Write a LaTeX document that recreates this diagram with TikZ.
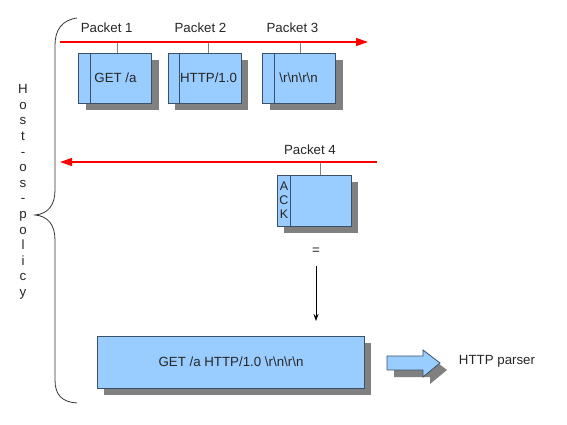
\documentclass[tikz,border=0pt]{standalone}
\usepackage{fontspec}
\setmainfont{Liberation Sans}
\usetikzlibrary{shadows,arrows.meta}
\definecolor{boxfill}{HTML}{99CCFF}
\definecolor{boxedge}{HTML}{3C5068}
\definecolor{shadowgray}{HTML}{808080}
\tikzset{
  pkt/.style={draw=boxedge, fill=boxfill, line width=0.8pt, rectangle, inner sep=0pt,
    minimum width=73pt, minimum height=50pt,
    drop shadow={shadow xshift=7pt, shadow yshift=-7pt, fill=shadowgray, opacity=1}},
  lbl/.style={font=\fontsize{13.3}{15.6}\selectfont, text=black!85, inner sep=0pt},
  redline/.style={draw=red, line width=1.2pt},
  tick/.style={draw=shadowgray, line width=1pt},
}
\begin{document}
\begin{tikzpicture}[x=1pt,y=-1pt]
\useasboundingbox (0,0) rectangle (567,425);
% brace
\draw[black!80, line width=0.8pt] (77,18) .. controls (62,20) and (55,30) .. (55,45) -- (55,190)
  .. controls (55,205) and (48,214) .. (35,215)
  .. controls (48,216) and (55,225) .. (55,240) -- (55,380)
  .. controls (55,395) and (62,402) .. (77,403);
\node[lbl, align=center] (hop) at (23,192) {H\\o\\s\\t\\-\\o\\s\\-\\p\\o\\l\\i\\c\\y};
% row 1
\coordinate (r1s) at (60,42);
\coordinate (r1e) at (368,42);
\node[pkt] (p1) at (115,78) {};
\node[pkt] (p2) at (204.5,78) {};
\node[pkt] (p3) at (299,78) {};
\foreach \p in {p1,p2,p3}{
  \draw[boxedge, line width=0.8pt] ([xshift=12pt]\p.north west) -- ([xshift=12pt]\p.south west);
}
\node[lbl] at (115.5,78) {GET /a};
\node[lbl] at (208.5,78) {HTTP/1.0};
\node[lbl] at (298.6,78) {\textbackslash r\textbackslash n\textbackslash r\textbackslash n};
\node[lbl] (l1) at (106.7,28) {Packet 1};
\node[lbl] (l2) at (200.5,28) {Packet 2};
\node[lbl] (l3) at (292.5,28) {Packet 3};
\draw[tick] (p1.north -| 117,0) -- (r1s -| 117,0);
\draw[tick] (p2.north -| 208,0) -- (r1s -| 208,0);
\draw[tick] (p3.north -| 300,0) -- (r1s -| 300,0);
\draw[redline, -{Triangle[length=12pt,width=8pt]}] (r1s) -- (r1e);
% row 2
\coordinate (r2s) at (377,162);
\coordinate (r2e) at (60,162);
\node[pkt, minimum width=74pt, minimum height=51pt] (p4) at (314,200.5) {};
\draw[boxedge, line width=0.8pt] ([xshift=14pt]p4.north west) -- ([xshift=14pt]p4.south west);
\node[lbl, align=center, font=\fontsize{12.5}{14}\selectfont] (ack) at (284,200) {A\\C\\K};
\node[lbl] (l4) at (310,150) {Packet 4};
\draw[tick] (p4.north -| 320,0) -- (r2s -| 320,0);
\draw[redline, -{Triangle[length=12pt,width=8pt]}] (r2s) -- (r2e);
% equals and arrow
\node[lbl] (eq) at (316,251) {=};
\coordinate (aend) at (316,321);
\draw[black, line width=0.8pt, -{Stealth[length=7pt,width=5pt]}] (316,266) -- (aend);
% big box
\node[pkt, minimum width=267pt, minimum height=52pt] (big) at (230.5,362) {};
\node[lbl] (bigtxt) at (231,362) {GET /a HTTP/1.0 \textbackslash r\textbackslash n\textbackslash r\textbackslash n};
% fat arrow
\draw[draw=boxedge, fill=boxfill, line width=0.8pt,
  drop shadow={shadow xshift=7pt, shadow yshift=-7pt, fill=shadowgray, opacity=1}]
  (387,356) -- (423,356) -- (423,350) -- (440,363) -- (423,377) -- (423,370) -- (387,370) -- cycle;
\node[lbl] (parser) at (497,361) {HTTP parser};
\end{tikzpicture}
\end{document}
